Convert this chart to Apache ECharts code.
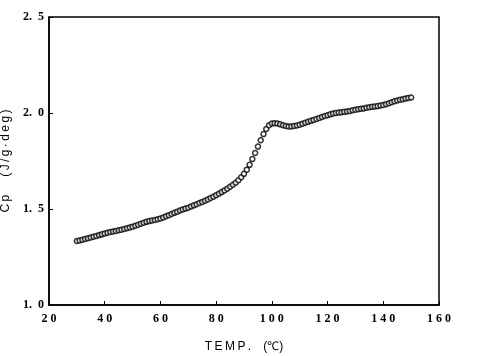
<!DOCTYPE html>
<html>
<head>
<meta charset="utf-8">
<script src="https://cdn.jsdelivr.net/npm/echarts@6/dist/echarts.min.js"></script>
<style>html,body{margin:0;padding:0;background:#fff}#c{width:494px;height:356px}</style>
</head>
<body>
<div id="c"></div>
<script>
// Temperature (°C), one reading per degree
var temps = [30,31,32,33,34,35,36,37,38,39,40,41,42,43,44,45,46,47,48,49,50,51,52,53,54,55,56,57,58,59,60,61,62,63,64,65,66,67,68,69,70,71,72,73,74,75,76,77,78,79,80,81,82,83,84,85,86,87,88,89,90,91,92,93,94,95,96,97,98,99,100,101,102,103,104,105,106,107,108,109,110,111,112,113,114,115,116,117,118,119,120,121,122,123,124,125,126,127,128,129,130,131,132,133,134,135,136,137,138,139,140,141,142,143,144,145,146,147,148,149,150];
// Cp (J/g·deg)
var cp = [1.333,1.336,1.340,1.344,1.348,1.352,1.356,1.360,1.364,1.368,1.372,1.376,1.380,1.383,1.386,1.389,1.392,1.396,1.400,1.404,1.408,1.413,1.418,1.423,1.428,1.433,1.437,1.440,1.443,1.447,1.451,1.456,1.462,1.468,1.474,1.480,1.486,1.492,1.497,1.502,1.507,1.513,1.519,1.525,1.531,1.537,1.543,1.550,1.557,1.564,1.572,1.580,1.588,1.597,1.606,1.616,1.626,1.637,1.650,1.665,1.683,1.705,1.730,1.760,1.792,1.825,1.858,1.890,1.917,1.936,1.945,1.947,1.945,1.941,1.936,1.932,1.930,1.930,1.932,1.935,1.939,1.944,1.949,1.954,1.959,1.964,1.969,1.974,1.979,1.984,1.988,1.993,1.997,2.000,2.002,2.004,2.006,2.008,2.011,2.014,2.017,2.020,2.022,2.024,2.027,2.030,2.032,2.034,2.036,2.039,2.042,2.046,2.051,2.056,2.061,2.065,2.069,2.072,2.075,2.078,2.081];
var xTicks = [20,40,60,80,100,120,140,160];
var yTicks = [1.0,1.5,2.0,2.5];
var xTitle = 'T\u2009E\u2009M\u2009P\u2009.\u2003(\u2103)';
var yTitle = 'C\u2009p\u2003\u2002(\u2009J\u2009/\u2009g\u2009\u00b7\u2009d\u2009e\u2009g\u2009)';

var pts = temps.map(function(t,i){return [t, cp[i]];});
var chart = echarts.init(document.getElementById('c'));
var labelFont = {color:'#000', fontFamily:'Liberation Serif', fontWeight:'bold', fontSize:12};
chart.setOption({
  animation:false,
  backgroundColor:'#fff',
  grid:{left:49, right:55, top:17, bottom:51, show:true, borderColor:'#000', borderWidth:1.5, backgroundColor:'transparent', containLabel:false, outerBoundsMode:'none'},
  xAxis:{
    type:'value', min:xTicks[0], max:xTicks[xTicks.length-1], interval:20,
    name:xTitle, nameLocation:'middle', nameGap:36,
    nameTextStyle:{color:'#000', fontFamily:'Liberation Sans', fontSize:12},
    axisLine:{show:true, lineStyle:{color:'#000', width:1.5}},
    axisTick:{show:true, inside:true, length:4, lineStyle:{color:'#000'}},
    splitLine:{show:false},
    axisLabel:Object.assign({margin:8, formatter:function(v){return String(v).split('').join(' ');}}, labelFont)
  },
  yAxis:{
    type:'value', min:yTicks[0], max:yTicks[yTicks.length-1], interval:0.5,
    name:yTitle, nameLocation:'middle', nameGap:37, nameRotate:90,
    nameTextStyle:{color:'#000', fontFamily:'Liberation Sans', fontSize:12},
    axisLine:{show:true, lineStyle:{color:'#000', width:1.5}},
    axisTick:{show:true, inside:true, length:4, lineStyle:{color:'#000'}},
    splitLine:{show:false},
    axisLabel:Object.assign({margin:5, formatter:function(v){return v.toFixed(1).replace('.', '.\u2002');}}, labelFont)
  },
  series:[{
    type:'scatter', data:pts, symbol:'circle', symbolSize:5,
    itemStyle:{color:'#fff', borderColor:'#000', borderWidth:1.5}
  }]
});
</script>
</body>
</html>
